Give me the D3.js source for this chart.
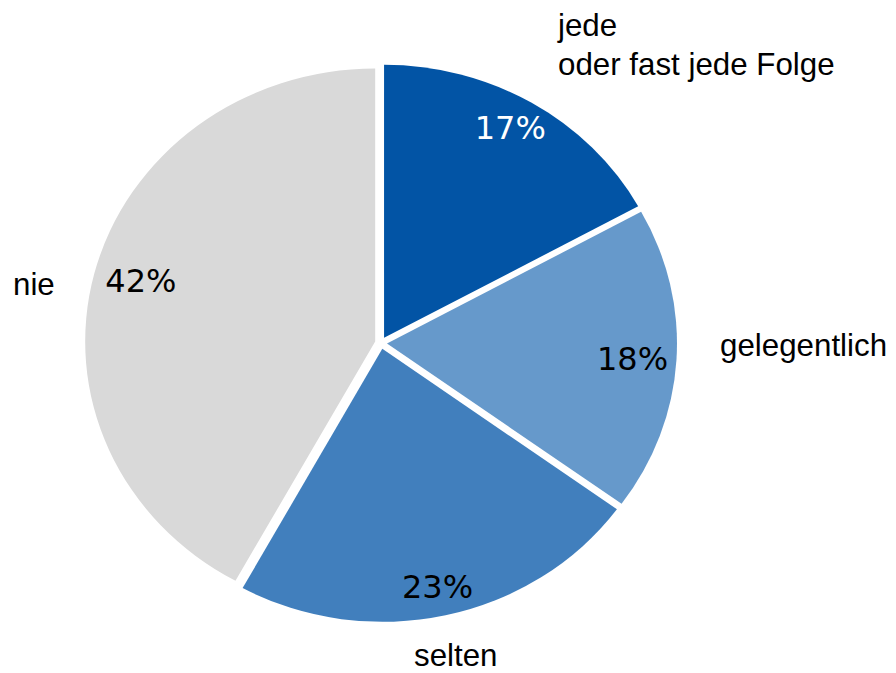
<!DOCTYPE html>
<html>
<head>
<meta charset="utf-8">
<script src="https://cdn.jsdelivr.net/npm/d3@7"></script>
<style>
  html, body { margin: 0; padding: 0; background: #fff; }
  svg { display: block; }
</style>
</head>
<body>
<svg id="chart" width="896" height="673"></svg>
<script>
// ---- data ----
const categories = ["jede|oder fast jede Folge", "gelegentlich", "selten", "nie"];
const values = [17, 18, 23, 42];
const valueLabels = ["17%", "18%", "23%", "42%"];

// ---- style ----
const palette = ["#0254A5", "#6699CB", "#417FBD", "#D9D9D9"];
const valueTextColors = ["#ffffff", "#000000", "#000000", "#000000"];

// ---- layout ----
const cx = 381, cy = 343;
const ry = 273, rx = 290;
const sx = rx / ry;
const explode = 6;
const labelR = 244;

const svg = d3.select("#chart");

const pie = d3.pie().sort(null).value(d => d).startAngle(0).endAngle(2 * Math.PI);
const arcs = pie(values);
const arc = d3.arc().innerRadius(0).outerRadius(ry);
const labelArc = d3.arc().innerRadius(labelR).outerRadius(labelR);

arcs.forEach(a => {
  const mid = (a.startAngle + a.endAngle) / 2;
  a.dx = Math.sin(mid) * explode;
  a.dy = -Math.cos(mid) * explode;
});

svg.selectAll("path.slice")
  .data(arcs)
  .join("path")
  .attr("class", "slice")
  .attr("transform", d => `translate(${cx + d.dx},${cy + d.dy}) scale(${sx},1)`)
  .attr("d", arc)
  .attr("fill", (d, i) => palette[i]);

// value labels
svg.selectAll("text.val")
  .data(arcs)
  .join("text")
  .attr("class", "val")
  .attr("x", d => cx + d.dx + labelArc.centroid(d)[0] + 2)
  .attr("y", d => cy + d.dy + labelArc.centroid(d)[1])
  .attr("dy", "0.36em")
  .attr("text-anchor", "middle")
  .attr("font-family", "'DejaVu Sans', Verdana, sans-serif")
  .attr("font-size", 32)
  .attr("fill", (d, i) => valueTextColors[i])
  .text((d, i) => valueLabels[i]);

// category labels (positioned outside the pie)
const catPos = [
  { x: 558, y: 36 },
  { x: 720, y: 356 },
  { x: 414, y: 666 },
  { x: 13, y: 295 }
];
const lineH = 39;
categories.forEach((c, i) => {
  const t = svg.append("text")
    .attr("x", catPos[i].x)
    .attr("y", catPos[i].y)
    .attr("text-anchor", "start")
    .attr("font-family", "'Liberation Sans', Arial, sans-serif")
    .attr("font-size", 31.3)
    .attr("fill", "#000");
  c.split("|").forEach((line, j) => {
    t.append("tspan")
      .attr("x", catPos[i].x)
      .attr("dy", j === 0 ? 0 : lineH)
      .text(line);
  });
});
</script>
</body>
</html>
